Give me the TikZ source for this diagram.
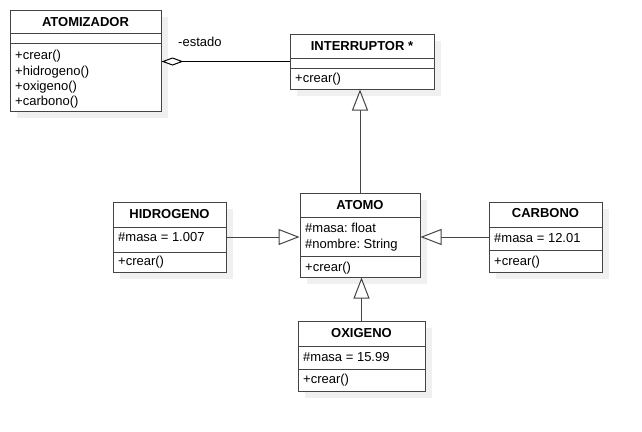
\documentclass[tikz,border=0pt]{standalone}
\usepackage{fontspec}
\setmainfont{Liberation Sans}
\usetikzlibrary{arrows.meta}
\frenchspacing
\definecolor{linec}{HTML}{444444}
\definecolor{shadowc}{HTML}{F0F0F0}
\tikzset{
  classframe/.style={draw=linec, line width=1pt, fill=white, rectangle, inner sep=0pt},
  sepline/.style={draw=linec, line width=1pt},
  titletext/.style={font=\fontsize{13}{15}\selectfont\bfseries, anchor=base, inner sep=0pt},
  itemtext/.style={font=\fontsize{13}{15}\selectfont, anchor=base west, inner sep=0pt},
  genline/.style={draw=linec, line width=1pt, -{Triangle[length=21pt,width=16pt,fill=white,line width=1pt]}},
  aggline/.style={draw=black, line width=1pt, -{Diamond[length=22pt,width=8pt,fill=white,line width=1pt]}},
}
\newcommand\umlclass[7]{%
  \fill[shadowc] (#2+7,#3+7) rectangle (#4+7,#5+7);
  \node[classframe, minimum width={#4-#2}, minimum height={#5-#3}] (#1) at ({(#2+#4)/2},{(#3+#5)/2}) {};
  \draw[sepline] (#2,#6) -- (#4,#6);
  \draw[sepline] (#2,#7) -- (#4,#7);
}
\begin{document}
\begin{tikzpicture}[x=1pt,y=-1pt]
\useasboundingbox[fill=white] (0,0) rectangle (642,431);

% classes
\umlclass{atomizador}{10}{10}{161}{111}{33}{43}
\umlclass{interruptor}{290}{34}{434}{89}{58}{68}
\umlclass{atomo}{300}{193}{420}{277}{217}{256}
\umlclass{hidrogeno}{113}{202}{226}{272}{227}{252}
\umlclass{carbono}{489}{202}{602}{272}{227}{250}
\umlclass{oxigeno}{298}{321}{425}{391}{346}{369}

% texts
\node[titletext] (t1) at (85.5,26.5) {ATOMIZADOR};
\node[itemtext] (a1) at (15,59.5) {+crear()};
\node[itemtext] (a2) at (15,75) {+hidrogeno()};
\node[itemtext] (a3) at (15,90.5) {+oxigeno()};
\node[itemtext] (a4) at (15,105.5) {+carbono()};

\node[titletext] (t2) at (362,50.5) {INTERRUPTOR *};
\node[itemtext] (b1) at (295,82.5) {+crear()};

\node[titletext] (t3) at (360,209.5) {ATOMO};
\node[itemtext] (c1) at (305,232.5) {\#masa: float};
\node[itemtext] (c2) at (305,248.5) {\#nombre: String};
\node[itemtext] (c3) at (305,271.5) {+crear()};

\node[titletext] (t4) at (169.5,218.5) {HIDROGENO};
\node[itemtext] (d1) at (118,241.5) {\#masa = 1.007};
\node[itemtext] (d2) at (118,265.5) {+crear()};

\node[titletext] (t5) at (545.5,217.5) {CARBONO};
\node[itemtext] (e1) at (494,242.5) {\#masa = 12.01};
\node[itemtext] (e2) at (494,265.5) {+crear()};

\node[titletext] (t6) at (361.5,337.5) {OXIGENO};
\node[itemtext] (f1) at (303,361.5) {\#masa = 15.99};
\node[itemtext] (f2) at (303,383.5) {+crear()};

\node[itemtext] (lbl) at (178,46.5) {-estado};

% connectors
\draw[aggline] (interruptor.west) -- (atomizador.east |- interruptor.west);
\draw[genline] (atomo.north) -- (atomo.north |- interruptor.south);
\draw[genline] (hidrogeno.east) -- (hidrogeno.east -| atomo.west);
\draw[genline] (carbono.west) -- (carbono.west -| atomo.east);
\draw[genline] (oxigeno.north) -- (oxigeno.north |- atomo.south);
\end{tikzpicture}
\end{document}
